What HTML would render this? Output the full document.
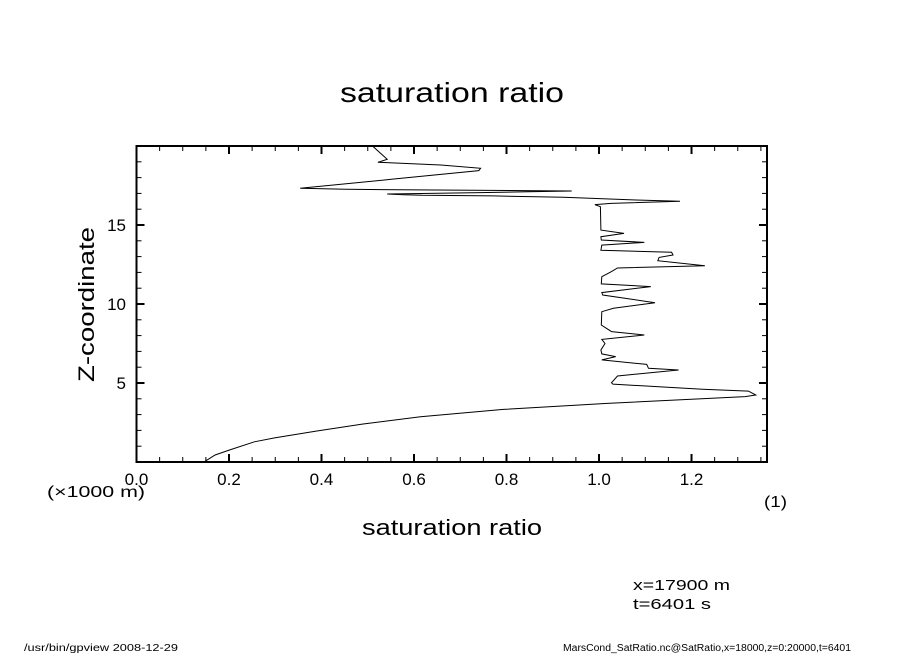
<!DOCTYPE html>
<html><head><meta charset="utf-8"><style>
html,body{margin:0;padding:0;background:#fff;width:904px;height:654px;overflow:hidden}
svg text{font-family:"Liberation Sans",sans-serif;fill:#000}
</style></head><body>
<svg id="chart" width="904" height="654" viewBox="0 0 904 654" xmlns="http://www.w3.org/2000/svg">
<text x="340" y="102" font-size="28" textLength="224" lengthAdjust="spacingAndGlyphs">saturation ratio</text>
<text transform="translate(94,382) rotate(-90)" font-size="22" textLength="155" lengthAdjust="spacingAndGlyphs">Z-coordinate</text>
<text x="362" y="535" font-size="22" textLength="180" lengthAdjust="spacingAndGlyphs">saturation ratio</text>
<text x="47" y="497" font-size="16" textLength="98" lengthAdjust="spacingAndGlyphs">(×1000 m)</text>
<text x="764" y="507" font-size="16" textLength="23" lengthAdjust="spacingAndGlyphs">(1)</text>
<text x="633" y="590" font-size="15" textLength="97" lengthAdjust="spacingAndGlyphs">x=17900 m</text>
<text x="633" y="609" font-size="15" textLength="78" lengthAdjust="spacingAndGlyphs">t=6401 s</text>
<text x="24" y="651" font-size="10" textLength="154" lengthAdjust="spacingAndGlyphs">/usr/bin/gpview  2008-12-29</text>
<text x="563" y="651" font-size="10" textLength="288" lengthAdjust="spacingAndGlyphs">MarsCond_SatRatio.nc@SatRatio,x=18000,z=0:20000,t=6401</text>
<g id="ticks"></g>
<path id="profile" fill="none" stroke="#000" stroke-width="1"/>
<rect x="136.5" y="146" width="630.5" height="316" fill="none" stroke="#000" stroke-width="2"/>
</svg>
<script>
const satValues=[0.147,0.17,0.201,0.255,0.30,0.39,0.488,0.614,0.793,1.018,1.316,1.339,1.323,1.224,1.03,1.027,1.04,1.172,1.107,1.103,1.006,1.036,1.006,1.004,1.013,1.006,1.098,1.027,1.005,1.006,1.031,1.121,1.008,1.006,1.112,1.005,1.006,1.027,1.04,1.229,1.127,1.13,1.16,1.157,1.004,1.006,1.098,1.005,1.004,1.054,1.004,1.003,0.991,1.026,1.175,1.08,0.923,0.771,0.618,0.577,0.542,0.744,0.847,0.941,0.453,0.354,0.551,0.74,0.744,0.658,0.522,0.542,0.529,0.511];
const zValues=[0.02,0.44,0.76,1.28,1.54,1.96,2.4,2.87,3.33,3.71,4.14,4.24,4.49,4.6,4.93,5.02,5.44,5.82,5.93,6.18,6.46,6.67,6.84,7.09,7.5,7.76,8.04,8.25,8.67,9.51,9.73,10.08,10.57,10.72,11.1,11.27,11.73,12.05,12.28,12.42,12.74,12.95,13.1,13.27,13.4,13.73,13.9,14.05,14.26,14.47,14.68,16.16,16.29,16.37,16.5,16.58,16.75,16.84,16.88,16.92,16.96,17.05,17.1,17.15,17.26,17.32,17.89,18.44,18.59,18.8,18.97,19.16,19.5,19.98];
const xTickLabels=["0.0","0.2","0.4","0.6","0.8","1.0","1.2"];
const yTickLabels=["5","10","15"];
const X0=136.5,X1=767,Y0=462,Y1=146,XMAX=1.3632,ZMAX=20;
const sx=v=>X0+v/XMAX*(X1-X0);
const sy=z=>Y0-z/ZMAX*(Y0-Y1);
const NS="http://www.w3.org/2000/svg";
let d="";
for(let i=0;i<satValues.length;i++){d+=(i?"L":"M")+sx(satValues[i]).toFixed(1)+","+sy(zValues[i]).toFixed(1);}
document.getElementById("profile").setAttribute("d",d);
const g=document.getElementById("ticks");
const svg=document.getElementById("chart");
function line(x1,y1,x2,y2,w){const l=document.createElementNS(NS,"line");l.setAttribute("x1",x1);l.setAttribute("y1",y1);l.setAttribute("x2",x2);l.setAttribute("y2",y2);l.setAttribute("stroke","#000");l.setAttribute("stroke-width",w);


g.appendChild(l);}
for(let k=0;k*0.05<=XMAX+1e-9;k++){const v=k*0.05,x=sx(v),maj=k%4===0,len=maj?8:5,w=maj?2:1;line(x,Y0,x,Y0-len,w);line(x,Y1,x,Y1+len,w);}
for(let z=0;z<=ZMAX;z++){const y=sy(z),maj=z%5===0,len=maj?8:5,w=maj?2:1;line(X0,y,X0+len,y,w);line(X1,y,X1-len,y,w);}
xTickLabels.forEach(s=>{const t=document.createElementNS(NS,"text");t.setAttribute("x",sx(parseFloat(s)));t.setAttribute("y",485);t.setAttribute("font-size","17");t.setAttribute("text-anchor","middle");t.textContent=s;


svg.appendChild(t);});
yTickLabels.forEach(s=>{const t=document.createElementNS(NS,"text");t.setAttribute("x",126);t.setAttribute("y",sy(parseFloat(s))+6);t.setAttribute("font-size","17");t.setAttribute("text-anchor","end");t.textContent=s;


svg.appendChild(t);});
</script>
</body></html>
